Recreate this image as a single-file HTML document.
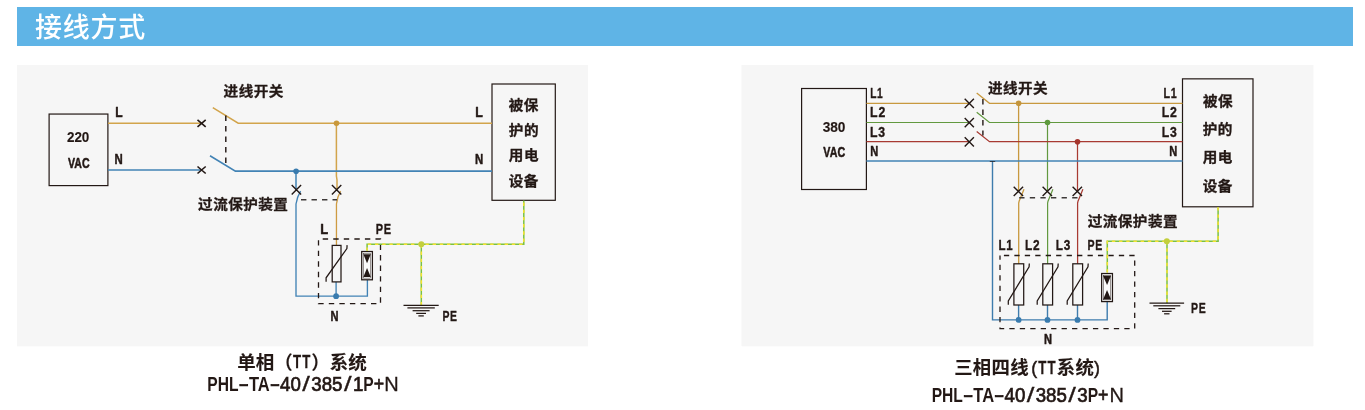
<!DOCTYPE html>
<html lang="zh-CN">
<head>
<meta charset="utf-8">
<title>接线方式</title>
<style>
html,body{margin:0;padding:0;background:#fff;}
body{width:1365px;height:410px;position:relative;overflow:hidden;font-family:"Liberation Sans","Noto Sans CJK SC",sans-serif;}
.hd{position:absolute;left:17px;top:7px;width:1336px;height:39px;background:#5FB4E6;}
.hd h2{margin:0;position:absolute;left:18.3px;top:2px;line-height:39px;font-size:27px;letter-spacing:0.75px;font-weight:500;will-change:transform;color:#fff;font-family:"Liberation Sans","Noto Sans CJK SC",sans-serif;white-space:nowrap;}
.pn{position:absolute;top:65px;height:281px;width:571px;background:#F6F6F6;}
.pn:after{content:"";position:absolute;left:0;right:0;bottom:-1px;height:1px;background:#FCFCFC;}
#p1{left:17px;}
#p2{left:742px;}
#p2:before{content:"";position:absolute;left:-1px;top:0;bottom:0;width:1px;background:#FAFAFA;}
#p2{box-shadow:1px 0 0 #FBFBFB;}
svg{position:absolute;left:0;top:0;will-change:transform;}
.lt{font-family:"Liberation Sans",sans-serif;font-weight:bold;fill:#231815;stroke:#231815;stroke-width:0.5px;stroke-linejoin:round;}
.zh{font-family:"Liberation Sans","Noto Sans CJK SC",sans-serif;font-weight:bold;fill:#231815;stroke:#231815;stroke-width:0.3px;stroke-linejoin:round;letter-spacing:0.45px;}
.cap{font-family:"Liberation Sans","Noto Sans CJK SC",sans-serif;font-weight:bold;fill:#231815;stroke:#231815;stroke-width:0.1px;}
.capt{font-family:"Liberation Sans",sans-serif;font-weight:bold;stroke-width:0.3px;letter-spacing:1.5px;}
.capp{font-family:"Liberation Sans",sans-serif;font-weight:normal;stroke-width:0.5px;}
.capl{font-family:"Liberation Sans",sans-serif;font-weight:normal;fill:#231815;stroke:#231815;stroke-width:0.7px;}
.capb{font-weight:bold;stroke-width:0;}
.caps{stroke-width:0.3px;}
.capr{stroke-width:0.3px;}
</style>
</head>
<body>
<div class="hd"><h2>接线方式</h2></div>
<div class="pn" id="p1"></div>
<div class="pn" id="p2"></div>
<svg width="1365" height="410" viewBox="0 0 1365 410">
<g id="d1">
<rect x="49.1" y="114.05" width="58.8" height="71.55" fill="none" stroke="#231815" stroke-width="1.2"/>
<rect x="492" y="84" width="63.3" height="116.3" fill="none" stroke="#231815" stroke-width="1.2"/>
<path d="M108 123.25H201.5" stroke="#D2A44B" stroke-width="1.5" fill="none" />
<path d="M212.8 107.6L238.2 123.25H492" stroke="#D2A44B" stroke-width="1.5" fill="none" />
<path d="M336.4 123.25V176L337 180V190" stroke="#D2A44B" stroke-width="1.5" fill="none" />
<path d="M340.6 191.2Q337.2 197 336.45 204V245.4" stroke="#CE9B42" stroke-width="1.3" fill="none" />
<circle cx="336.5" cy="123.25" r="2.8" fill="#C9983A"/>
<path d="M108 170H201.5" stroke="#4283B5" stroke-width="1.6" fill="none" />
<path d="M210 155.8L235.4 171.15H492" stroke="#4283B5" stroke-width="1.6" fill="none" />
<path d="M296 171.15V190" stroke="#4283B5" stroke-width="1.5" fill="none" />
<path d="M300.6 191.2Q297 197 296 204V296.15H367.4V280" stroke="#4283B5" stroke-width="1.35" fill="none" />
<path d="M336.1 296.15V282" stroke="#4283B5" stroke-width="1.35" fill="none" />
<circle cx="296.1" cy="171.2" r="2.8" fill="#397BAE"/>
<circle cx="336.1" cy="296.15" r="2.9" fill="#397BAE"/>
<path d="M225.8 115.6V164" stroke="#231815" stroke-width="1.45" fill="none" stroke-dasharray="5.4 5.1"/>
<path d="M301 199.75H337" stroke="#3E3A39" stroke-width="1.4" fill="none" stroke-dasharray="5.4 5.1"/>
<path d="M197.5 119.8L205.7 126.8M205.7 119.8L197.5 126.8" stroke="#231815" stroke-width="1.6" fill="none"/>
<path d="M197.5 166.5L205.7 173.5M205.7 166.5L197.5 173.5" stroke="#231815" stroke-width="1.6" fill="none"/>
<path d="M291.7 185.1L301.1 194.5M301.1 185.1L291.7 194.5" stroke="#231815" stroke-width="1.4" fill="none"/>
<path d="M331.9 185.1L341.3 194.5M341.3 185.1L331.9 194.5" stroke="#231815" stroke-width="1.4" fill="none"/>
<path d="M322.7 239H380.5V303.7H318.5V239" stroke="#231815" stroke-width="1.3" fill="none" stroke-dasharray="5.4 5.15"/>
<rect x="332.2" y="245.4" width="8.8" height="36.5" fill="none" stroke="#231815" stroke-width="1.25"/><path d="M347.1 245.1L346.9 248.5L326.1 277.8L326.1 281.7" stroke="#231815" stroke-width="1.25" fill="none" />
<rect x="361.70" y="251.5" width="10.70" height="28.30" fill="#FBFBFB" stroke="#231815" stroke-width="1.25"/><rect x="363.40" y="253.20" width="7.30" height="24.90" fill="none" stroke="#231815" stroke-width="0.45"/><path d="M363.35 254.20H370.75L367.05 263.25Z" fill="#231815"/><path d="M363.35 277.10H370.75L367.05 268.05Z" fill="#231815"/>
<path d="M367.1 250.8V244.3H523.8V200.6" stroke="#7AC143" stroke-width="1.5" fill="none"/><path d="M367.1 250.8V244.3H523.8V200.6" stroke="#F5E232" stroke-width="1.5" fill="none" stroke-dasharray="3.4 3.8" stroke-dashoffset="0"/>
<path d="M421.3 244.3V305.5" stroke="#7AC143" stroke-width="1.5" fill="none"/><path d="M421.3 244.3V305.5" stroke="#F5E232" stroke-width="1.5" fill="none" stroke-dasharray="3.4 3.8" stroke-dashoffset="0"/>
<circle cx="421.3" cy="244.3" r="3" fill="#C3CF3C"/>
<path d="M403.5 305.3H438.7" stroke="#231815" stroke-width="1.25" fill="none" /><path d="M407.4 307.9H434.8" stroke="#231815" stroke-width="1.25" fill="none" /><path d="M412.6 310.7H429.6" stroke="#231815" stroke-width="1.25" fill="none" /><path d="M416.2 313.4H426.0" stroke="#231815" stroke-width="1.25" fill="none" /><path d="M418.4 315.9H423.8" stroke="#231815" stroke-width="1.25" fill="none" />
<text class="lt" transform="translate(115.30 117) scale(0.810 1)" font-size="14.9">L</text>
<text class="lt" transform="translate(114.43 164) scale(0.767 1)" font-size="14.9">N</text>
<text class="lt" transform="translate(475.28 117) scale(0.835 1)" font-size="14.9">L</text>
<text class="lt" transform="translate(474.93 164) scale(0.767 1)" font-size="14.9">N</text>
<text class="lt" transform="translate(320.15 234) scale(0.872 1)" font-size="14.9">L</text>
<text class="lt" transform="translate(375.79 234) scale(0.737 1)" font-size="14.9" style="stroke-width:0.35px;letter-spacing:0.9px">PE</text>
<text class="lt" transform="translate(330.44 321) scale(0.745 1)" font-size="14.9">N</text>
<text class="lt" transform="translate(442.52 321) scale(0.701 1)" font-size="14.9" style="stroke-width:0.35px;letter-spacing:0.9px">PE</text>
<text class="lt" transform="translate(66.90 142) scale(0.875 1)" font-size="15.4" style="stroke-width:0.15px">220</text>
<text class="lt" transform="translate(68.03 168) scale(0.687 1)" font-size="15.4" style="stroke-width:0.6px">VAC</text>
<text class="zh" transform="translate(223.59 96) scale(1.065 1)" font-size="13.7">进线开关</text>
<text class="zh" transform="translate(198.08 209) scale(1.065 1)" font-size="13.7">过流保护装置</text>
<text class="zh" transform="translate(508.76 110) scale(1.065 1)" font-size="13.7">被保</text>
<text class="zh" transform="translate(508.85 135) scale(1.065 1)" font-size="13.7">护的</text>
<text class="zh" transform="translate(508.84 160) scale(1.065 1)" font-size="13.7">用电</text>
<text class="zh" transform="translate(508.67 186) scale(1.065 1)" font-size="13.7">设备</text>
</g>
<g id="d2">
<rect x="801.6" y="88.5" width="64.8" height="101" fill="none" stroke="#231815" stroke-width="1.2"/>
<rect x="1182.5" y="78.85" width="70.5" height="127.95" fill="none" stroke="#231815" stroke-width="1.2"/>
<path d="M866.4 103.3H969" stroke="#C8993F" stroke-width="1.3" fill="none" />
<path d="M976.7 93.1L989.5 103.3H1182.5" stroke="#C8993F" stroke-width="1.3" fill="none" />
<path d="M1018.6 103.3V191.3" stroke="#C8993F" stroke-width="1.3" fill="none" />
<path d="M1024.0 189.2L1019.1 201.3L1018.7 203V263.8" stroke="#C8993F" stroke-width="1.3" fill="none" />
<circle cx="1018.6" cy="103.3" r="2.8" fill="#C4953C"/>
<path d="M866.4 122.5H969" stroke="#62993F" stroke-width="1.2" fill="none" />
<path d="M976.7 112.3L989.5 122.5H1182.5" stroke="#62993F" stroke-width="1.2" fill="none" />
<path d="M1047.5 122.5V191.3" stroke="#62993F" stroke-width="1.2" fill="none" />
<path d="M1052.9 189.2L1048.0 201.3L1047.6 203V263.8" stroke="#62993F" stroke-width="1.2" fill="none" />
<circle cx="1047.5" cy="122.5" r="2.8" fill="#5E9A3E"/>
<path d="M866.4 141.7H969" stroke="#A83A32" stroke-width="1.25" fill="none" />
<path d="M976.7 131.5L989.5 141.7H1182.5" stroke="#A83A32" stroke-width="1.25" fill="none" />
<path d="M1077.5 141.7V191.3" stroke="#A83A32" stroke-width="1.25" fill="none" />
<path d="M1082.9 189.2L1078.0 201.3L1077.6 203V263.8" stroke="#A83A32" stroke-width="1.25" fill="none" />
<circle cx="1077.5" cy="141.7" r="2.8" fill="#A5352D"/>
<path d="M866.4 160.95H1182.5" stroke="#4283B5" stroke-width="1.5" fill="none" />
<path d="M992.5 161V319.9H1107.2V302" stroke="#3E7CAD" stroke-width="1.4" fill="none" />
<path d="M1018.6 319.9V305" stroke="#3E7CAD" stroke-width="1.4" fill="none" />
<circle cx="1018.6" cy="319.9" r="2.9" fill="#397BAE"/>
<path d="M1047.5 319.9V305" stroke="#3E7CAD" stroke-width="1.4" fill="none" />
<circle cx="1047.5" cy="319.9" r="2.9" fill="#397BAE"/>
<path d="M1077.5 319.9V305" stroke="#3E7CAD" stroke-width="1.4" fill="none" />
<circle cx="1077.5" cy="319.9" r="2.9" fill="#397BAE"/>
<path d="M989.8 161.5H995.2" stroke="#231815" stroke-width="0.7" fill="none" />
<path d="M982.9 99V135.5" stroke="#231815" stroke-width="1.4" fill="none" stroke-dasharray="5.4 5.1"/>
<path d="M1019.2 197.8H1077.5" stroke="#3E3A39" stroke-width="1.4" fill="none" stroke-dasharray="5.3 5.3"/>
<path d="M964.7 98.8L973.9 108.0M973.9 98.8L964.7 108.0" stroke="#231815" stroke-width="1.4" fill="none"/>
<path d="M964.7 118.0L973.9 127.2M973.9 118.0L964.7 127.2" stroke="#231815" stroke-width="1.4" fill="none"/>
<path d="M964.7 137.2L973.9 146.4M973.9 137.2L964.7 146.4" stroke="#231815" stroke-width="1.4" fill="none"/>
<path d="M1013.7 186.7L1023.1 196.0M1023.1 186.7L1013.7 196.0" stroke="#231815" stroke-width="1.4" fill="none"/>
<path d="M1042.6 186.7L1052.0 196.0M1052.0 186.7L1042.6 196.0" stroke="#231815" stroke-width="1.4" fill="none"/>
<path d="M1072.6 186.7L1082.0 196.0M1082.0 186.7L1072.6 196.0" stroke="#231815" stroke-width="1.4" fill="none"/>
<path d="M1003.9 255.5H1134.7V328.6H1000V255.5" stroke="#231815" stroke-width="1.3" fill="none" stroke-dasharray="5.3 5.15"/>
<rect x="1013.9" y="263.8" width="9.8" height="41.2" fill="none" stroke="#231815" stroke-width="1.25"/><path d="M1029.3 263.5L1029.1 266.9L1008.3 300.9L1008.3 304.8" stroke="#231815" stroke-width="1.25" fill="none" />
<rect x="1042.8" y="263.8" width="9.8" height="41.2" fill="none" stroke="#231815" stroke-width="1.25"/><path d="M1058.2 263.5L1058.0 266.9L1037.2 300.9L1037.2 304.8" stroke="#231815" stroke-width="1.25" fill="none" />
<rect x="1072.8" y="263.8" width="9.8" height="41.2" fill="none" stroke="#231815" stroke-width="1.25"/><path d="M1088.2 263.5L1088.0 266.9L1067.2 300.9L1067.2 304.8" stroke="#231815" stroke-width="1.25" fill="none" />
<rect x="1101.65" y="273.5" width="10.80" height="28.10" fill="#FBFBFB" stroke="#231815" stroke-width="1.25"/><rect x="1103.35" y="275.20" width="7.40" height="24.70" fill="none" stroke="#231815" stroke-width="0.45"/><path d="M1103.05 275.70H1111.05L1107.05 285.05Z" fill="#231815"/><path d="M1103.05 299.40H1111.05L1107.05 290.05Z" fill="#231815"/>
<path d="M1107.3 272.6V241.15H1218.1V207.3" stroke="#7AC143" stroke-width="1.5" fill="none"/><path d="M1107.3 272.6V241.15H1218.1V207.3" stroke="#F5E232" stroke-width="1.5" fill="none" stroke-dasharray="3.4 3.8" stroke-dashoffset="0"/>
<path d="M1167 241.15V303.2" stroke="#7AC143" stroke-width="1.5" fill="none"/><path d="M1167 241.15V303.2" stroke="#F5E232" stroke-width="1.5" fill="none" stroke-dasharray="3.4 3.8" stroke-dashoffset="0"/>
<circle cx="1166.8" cy="241.15" r="3" fill="#C3CF3C"/>
<path d="M1149.5 303.2H1184.1" stroke="#231815" stroke-width="1.25" fill="none" /><path d="M1153.3 305.8H1180.3" stroke="#231815" stroke-width="1.25" fill="none" /><path d="M1158.4 308.6H1175.2" stroke="#231815" stroke-width="1.25" fill="none" /><path d="M1162.0 311.3H1171.6" stroke="#231815" stroke-width="1.25" fill="none" /><path d="M1164.1 313.8H1169.5" stroke="#231815" stroke-width="1.25" fill="none" />
<text class="lt" transform="translate(870.24 98) scale(0.685 1)" font-size="14.9" style="stroke-width:0.35px;letter-spacing:0.9px">L1</text>
<text class="lt" transform="translate(1163.61 98) scale(0.720 1)" font-size="14.9" style="stroke-width:0.35px;letter-spacing:0.9px">L1</text>
<text class="lt" transform="translate(870.12 117) scale(0.827 1)" font-size="14.9" style="stroke-width:0.35px;letter-spacing:0.9px">L2</text>
<text class="lt" transform="translate(1161.82 117) scale(0.827 1)" font-size="14.9" style="stroke-width:0.35px;letter-spacing:0.9px">L2</text>
<text class="lt" transform="translate(870.12 137) scale(0.824 1)" font-size="14.9" style="stroke-width:0.35px;letter-spacing:0.9px">L3</text>
<text class="lt" transform="translate(1161.82 137) scale(0.824 1)" font-size="14.9" style="stroke-width:0.35px;letter-spacing:0.9px">L3</text>
<text class="lt" transform="translate(870.24 156) scale(0.745 1)" font-size="14.9">N</text>
<text class="lt" transform="translate(1169.14 156) scale(0.745 1)" font-size="14.9">N</text>
<text class="lt" transform="translate(998.47 250) scale(0.772 1)" font-size="14.9" style="stroke-width:0.35px;letter-spacing:0.9px">L1</text>
<text class="lt" transform="translate(1024.94 250) scale(0.798 1)" font-size="14.9" style="stroke-width:0.35px;letter-spacing:0.9px">L2</text>
<text class="lt" transform="translate(1055.75 250) scale(0.795 1)" font-size="14.9" style="stroke-width:0.35px;letter-spacing:0.9px">L3</text>
<text class="lt" transform="translate(1087.52 250) scale(0.711 1)" font-size="14.9" style="stroke-width:0.35px;letter-spacing:0.9px">PE</text>
<text class="lt" transform="translate(1191.02 313) scale(0.706 1)" font-size="14.9" style="stroke-width:0.35px;letter-spacing:0.9px">PE</text>
<text class="lt" transform="translate(1043.94 344) scale(0.745 1)" font-size="14.9">N</text>
<text class="lt" transform="translate(822.65 132) scale(0.889 1)" font-size="15.4" style="stroke-width:0.15px">380</text>
<text class="lt" transform="translate(823.34 157) scale(0.694 1)" font-size="15.4" style="stroke-width:0.6px">VAC</text>
<text class="zh" transform="translate(987.89 93) scale(1.065 1)" font-size="13.7">进线开关</text>
<text class="zh" transform="translate(1087.68 226) scale(1.065 1)" font-size="13.7">过流保护装置</text>
<text class="zh" transform="translate(1202.96 106) scale(1.065 1)" font-size="13.7">被保</text>
<text class="zh" transform="translate(1202.80 134) scale(1.065 1)" font-size="13.7">护的</text>
<text class="zh" transform="translate(1202.74 162) scale(1.065 1)" font-size="13.7">用电</text>
<text class="zh" transform="translate(1202.67 191) scale(1.065 1)" font-size="13.7">设备</text>
</g>
<text class="cap" y="368.5" font-size="18.5"><tspan x="237.2">单相（</tspan><tspan class="capt" x="293.1" dy="-0.5" font-size="17.8" textLength="18.4" lengthAdjust="spacingAndGlyphs">TT</tspan><tspan x="311.20" dy="0.5">）系统</tspan></text>
<text class="capl" y="391.2" font-size="20"><tspan class="capb" x="207.30" textLength="31.20" lengthAdjust="spacingAndGlyphs">PHL</tspan><tspan x="238.50" textLength="10.40" lengthAdjust="spacingAndGlyphs">-</tspan><tspan class="capb" x="248.90" textLength="20.80" lengthAdjust="spacingAndGlyphs">TA</tspan><tspan x="269.70" textLength="10.40" lengthAdjust="spacingAndGlyphs">-</tspan><tspan x="280.10" textLength="20.80" lengthAdjust="spacingAndGlyphs">40</tspan><tspan class="caps" x="302.30" textLength="7.60" lengthAdjust="spacingAndGlyphs">/</tspan><tspan x="311.30" textLength="31.20" lengthAdjust="spacingAndGlyphs">385</tspan><tspan class="caps" x="343.90" textLength="7.60" lengthAdjust="spacingAndGlyphs">/</tspan><tspan x="352.90" textLength="10.40" lengthAdjust="spacingAndGlyphs">1</tspan><tspan class="capb" x="363.30" textLength="10.40" lengthAdjust="spacingAndGlyphs">P</tspan><tspan x="373.70" textLength="10.40" lengthAdjust="spacingAndGlyphs">+</tspan><tspan class="capr" x="384.18">N</tspan></text>
<text class="cap" y="373.5" font-size="18.4"><tspan x="954.20 972.85 991.50 1010.15">三相四线</tspan><tspan class="capp" x="1031.2" font-size="17.8">(</tspan><tspan class="capt" x="1038.3" font-size="17.8" textLength="18.4" lengthAdjust="spacingAndGlyphs">TT</tspan><tspan x="1056.78 1075.43">系统</tspan><tspan class="capp" x="1094" font-size="17.8">)</tspan></text>
<text class="capl" y="402" font-size="20"><tspan class="capb" x="931.70" textLength="31.20" lengthAdjust="spacingAndGlyphs">PHL</tspan><tspan x="962.90" textLength="10.40" lengthAdjust="spacingAndGlyphs">-</tspan><tspan class="capb" x="973.30" textLength="20.80" lengthAdjust="spacingAndGlyphs">TA</tspan><tspan x="994.10" textLength="10.40" lengthAdjust="spacingAndGlyphs">-</tspan><tspan x="1004.50" textLength="20.80" lengthAdjust="spacingAndGlyphs">40</tspan><tspan class="caps" x="1026.70" textLength="7.60" lengthAdjust="spacingAndGlyphs">/</tspan><tspan x="1035.70" textLength="31.20" lengthAdjust="spacingAndGlyphs">385</tspan><tspan class="caps" x="1068.30" textLength="7.60" lengthAdjust="spacingAndGlyphs">/</tspan><tspan x="1077.30" textLength="10.40" lengthAdjust="spacingAndGlyphs">3</tspan><tspan class="capb" x="1087.70" textLength="10.40" lengthAdjust="spacingAndGlyphs">P</tspan><tspan x="1098.10" textLength="10.40" lengthAdjust="spacingAndGlyphs">+</tspan><tspan class="capr" x="1109.48">N</tspan></text>
</svg>
</body>
</html>
